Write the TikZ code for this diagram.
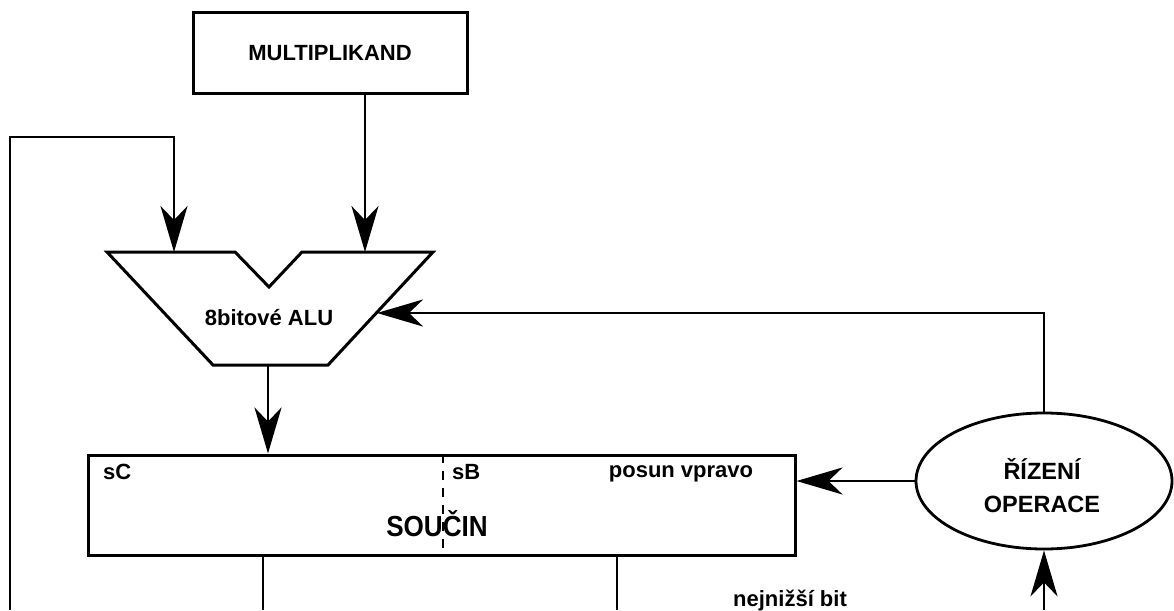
\documentclass[tikz,border=0pt]{standalone}
\usepackage{fontspec}
\setmainfont{Liberation Sans}
\usetikzlibrary{arrows.meta,shapes.geometric}
\tikzset{
  wire/.style={line width=2.8pt},
  arr/.style={wire,-{Stealth[length=46pt,width=27pt,inset=14pt]}},
  block/.style={draw,line width=3pt,rectangle,inner sep=0pt},
  lbl/.style={font=\bfseries\fontsize{22}{26}\selectfont,inner sep=0pt},
  biglbl/.style={font=\bfseries\fontsize{23.5}{33}\selectfont,inner sep=0pt,align=center},
}
\begin{document}
\begin{tikzpicture}[x=1pt,y=-1pt]
\useasboundingbox (0,0) rectangle (1174,610);

% multiplicand register
\node[block,minimum width=274pt,minimum height=80pt,lbl] (mult) at (330,53) {MULTIPLIKAND};

% ALU outline with its two inputs and the notch between them
\coordinate (aluTL) at (107,252);
\coordinate (aluN1) at (235,252);
\coordinate (aluNV) at (269,287);
\coordinate (aluN2) at (302,252);
\coordinate (aluTR) at (433,252);
\coordinate (aluBR) at (328,365);
\coordinate (aluBL) at (213,365);
\draw[line width=3pt,line join=miter] (aluTL) -- (aluN1) -- (aluNV) -- (aluN2) -- (aluTR) -- (aluBR) -- (aluBL) -- cycle;
\node[lbl] (alu) at (269,318) {8bitové ALU};
\coordinate (aluInA) at (174,252);
\coordinate (aluInB) at (365,252);
\coordinate (aluOut) at (268,365);
\coordinate (aluCtl) at (377,313);

% product register
\node[block,minimum width=707pt,minimum height=100pt] (prod) at (441.5,505) {};
\draw[line width=1.8pt,dash pattern=on 9pt off 8pt] (prod.north -| 443,0) -- (prod.south -| 443,0);
\node[lbl,anchor=west] (sC) at (103,472) {sC};
\node[lbl,anchor=west] (sB) at (452,472) {sB};
\node[lbl] (shift) at (681,474) {posun vpravo};
\node[font=\bfseries\fontsize{29}{32}\selectfont,inner sep=0pt] (prodlbl) at (437,524) {\scalebox{0.9}[1]{SOUČIN}};

% control unit
\node[draw,ellipse,line width=2.8pt,minimum width=256pt,minimum height=136pt,inner sep=0pt] (ctrl) at (1044,481) {};
\node[biglbl] (ctrllbl) at (1042,486) {ŘÍZENÍ\\OPERACE};
\node[lbl] (lsb) at (790,601) {nejnižší bit};

% loose ends running off the lower edge
\coordinate (fbEnd) at (10,610);
\coordinate (fbTop) at (10,137);
\coordinate (outA) at (263,610);
\coordinate (outB) at (617,610);
\coordinate (lsbIn) at (1044,610);

% connections
\draw[arr] ([xshift=35pt]mult.south) -- (aluInB);
\draw[arr] (fbEnd) -- (fbTop) -| (aluInA);
\draw[arr] (aluOut) -- (aluOut |- prod.north);
\draw[wire] (outA |- prod.south) -- (outA);
\draw[wire] (outB |- prod.south) -- (outB);
\draw[arr] (ctrl.west) -- (ctrl.west -| prod.east);
\draw[arr] (ctrl.north) |- (aluCtl);
\draw[arr] (lsbIn) -- (ctrl.south);
\end{tikzpicture}
\end{document}
